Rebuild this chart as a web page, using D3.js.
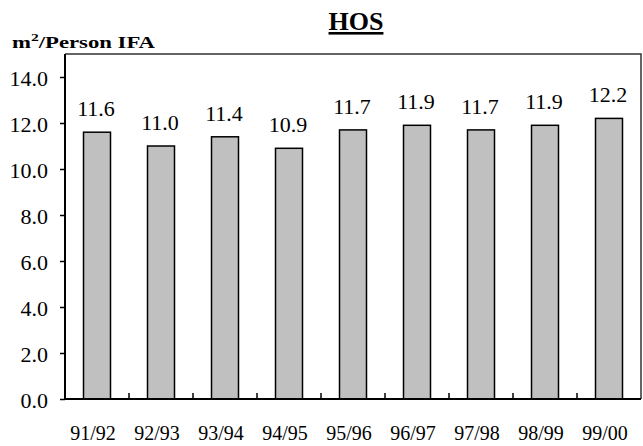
<!DOCTYPE html>
<html><head><meta charset="utf-8">
<script src="https://cdn.jsdelivr.net/npm/d3@7/dist/d3.min.js"></script>
<style>body{margin:0;background:#fff}svg{display:block}
svg text{font-family:"Liberation Serif","Times New Roman",Times,serif !important;}
</style>
</head><body>
<svg id="c" width="643" height="446"></svg>
<script>
const categories = ["91/92","92/93","93/94","94/95","95/96","96/97","97/98","98/99","99/00"];
const values = [11.6,11.0,11.4,10.9,11.7,11.9,11.7,11.9,12.2];
const yTicks = [0,2,4,6,8,10,12,14];

const svg = d3.select("#c");
const L=65, R=641, T=54, B=399;
const x = d3.scaleBand().domain(categories).range([L,R]).paddingInner(0).paddingOuter(0);
const y = d3.scaleLinear().domain([0,15]).range([B,T]);

svg.append("path").attr("d",`M${L},${T}H${R}V${B}`).attr("fill","none").attr("stroke","#333").attr("stroke-width",1.5);

const bw = 27;
svg.selectAll("rect.bar").data(values).join("rect")
  .attr("x",(d,i)=>x(categories[i])+x.bandwidth()/2-bw/2)
  .attr("y",d=>y(d)).attr("width",bw).attr("height",d=>B-y(d))
  .attr("fill","#c0c0c0").attr("stroke","#000").attr("stroke-width",1.5);

svg.selectAll("text.val").data(values).join("text")
  .attr("x",(d,i)=>x(categories[i])+x.bandwidth()/2-1)
  .attr("y",d=>y(d)-16)
  .attr("text-anchor","middle").style("font-size","22px")
  .text(d=>d.toFixed(1));

const ya = svg.append("g").attr("transform",`translate(${L},0)`)
  .call(d3.axisLeft(y).tickValues(yTicks).tickFormat(d3.format(".1f")).tickSize(5).tickPadding(12));
ya.select(".domain").attr("stroke","#000").attr("stroke-width",2).attr("d",`M0,${T}V${B}`);
ya.selectAll(".tick line").attr("stroke","#000").attr("stroke-width",1.5);
ya.selectAll(".tick text").style("font-size","22px").attr("fill","#000").attr("dy","0.38em");

const xa = svg.append("g").attr("transform",`translate(0,${B})`)
  .call(d3.axisBottom(x).tickSize(0));
xa.select(".domain").attr("stroke","#000").attr("stroke-width",2).attr("d",`M${L},0H${R}`);
xa.selectAll(".tick text").style("font-size","20px").attr("fill","#000")
  .attr("y",41).attr("dy",0).attr("dx",-4);
svg.selectAll("line.bt").data(categories.slice(1)).join("line")
  .attr("x1",d=>x(d)).attr("x2",d=>x(d)).attr("y1",B).attr("y2",B-6)
  .attr("stroke","#000").attr("stroke-width",1.5);

svg.append("text").attr("x",356).attr("y",30).attr("text-anchor","middle")
  .style("font-weight","bold").style("font-size","26px")
  .attr("text-decoration","underline").text("HOS");

const yl = svg.append("text").attr("x",12).attr("y",48)
  .style("font-weight","bold").style("font-size","16px")
  .attr("textLength",143).attr("lengthAdjust","spacingAndGlyphs");
yl.append("tspan").text("m");
yl.append("tspan").attr("dy",-7).style("font-size","11px").text("2");
yl.append("tspan").attr("dy",7).text("/Person IFA");
</script>
</body></html>
